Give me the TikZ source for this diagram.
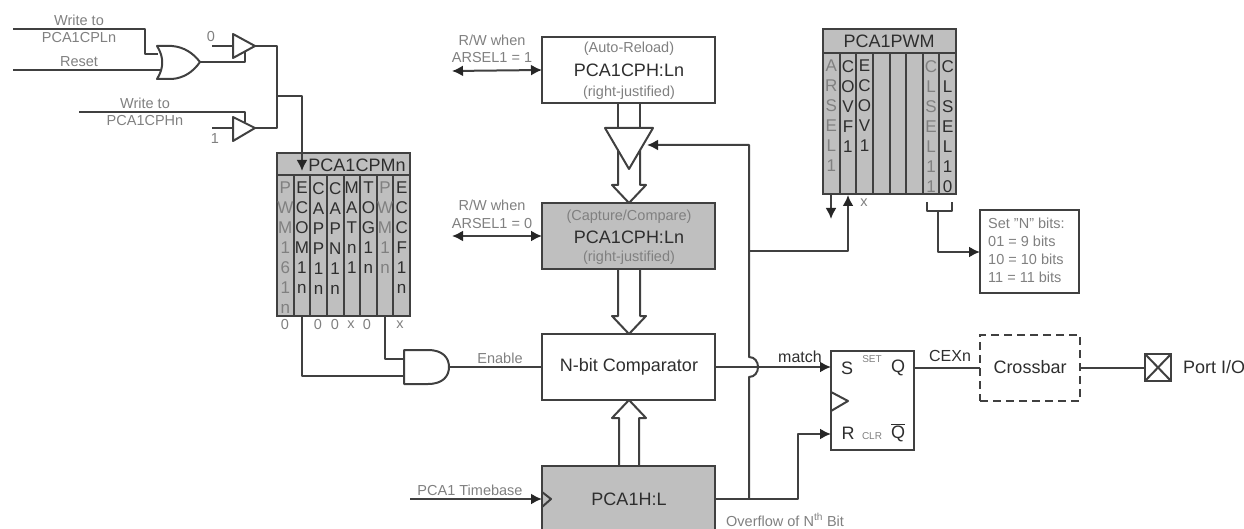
\documentclass[tikz,border=0pt]{standalone}
\usepackage{fontspec}
\setmainfont{Liberation Sans}
\usetikzlibrary{arrows.meta}
\definecolor{ln}{gray}{0.25}
\definecolor{txd}{gray}{0.18}
\definecolor{txg}{gray}{0.5}
\definecolor{fillg}{gray}{0.75}
\tikzset{
  wire/.style={draw=ln,line width=2pt,line join=round},
  arr/.style={wire,-{Latex[length=11pt,width=11pt,color=black!85]}},
  biarr/.style={wire,{Latex[length=11pt,width=11pt,color=black!85]}-{Latex[length=11pt,width=11pt,color=black!85]}},
  box/.style={draw=ln,line width=2.3pt,inner sep=0pt,outer sep=0pt,anchor=north west,align=center},
  gate/.style={draw=ln,line width=2pt,line join=round,fill=white},
  big/.style={font=\fontsize{18}{20}\selectfont,text=txd,inner sep=0pt},
  small/.style={font=\fontsize{14.5}{16}\selectfont,text=txg,inner sep=0pt},
  tiny/.style={font=\fontsize{10}{11}\selectfont,text=txg,inner sep=0pt},
  cold/.style={font=\fontsize{17}{20}\selectfont,text=txd,inner sep=0pt,anchor=north,align=center},
  colg/.style={font=\fontsize{17}{20}\selectfont,text=txg,inner sep=0pt,anchor=north,align=center},
}
\begin{document}
\begin{tikzpicture}[x=1pt,y=-1pt]
\useasboundingbox (0,0) rectangle (1244,529);

% ---- free end and pin coordinates
\coordinate (wl) at (13,29);
\coordinate (rs) at (13,70);
\coordinate (wh) at (79,112);
\coordinate (orA) at (158,54);
\coordinate (orB) at (161,70);
\coordinate (orO) at (200,62);
\coordinate (t1i) at (233,46);
\coordinate (t1o) at (255,46);
\coordinate (t1e) at (245,52);
\coordinate (t2i) at (233,128);
\coordinate (t2o) at (255,128);
\coordinate (t2e) at (245,122);
\coordinate (zero) at (212,46);
\coordinate (one) at (212,128);
\coordinate (bus) at (277,96);
\coordinate (andA) at (404,359);
\coordinate (andB) at (404,376);
\coordinate (andO) at (449,367);
\coordinate (tb) at (410,499);
\coordinate (ctrl) at (749,251);
\coordinate (ovf) at (749,499);
\coordinate (ctlin) at (647,145);
\coordinate (r1) at (452,71);
\coordinate (r2) at (452,236);
\coordinate (down) at (831,219);
\coordinate (brL) at (927,202);
\coordinate (brR) at (952,202);

% ---- boxes
\node[box,minimum width=173pt,minimum height=66pt] (ar) at (542,37) {};
\node[box,fill=fillg,minimum width=173pt,minimum height=66pt] (cc) at (542,203) {};
\node[box,minimum width=173pt,minimum height=66pt] (cmp) at (542,334) {};
\node[box,fill=fillg,minimum width=173pt,minimum height=70pt] (tmr) at (542,466) {};
\node[box,minimum width=83pt,minimum height=99pt] (sr) at (831,351) {};
\node[box,dash pattern=on 8pt off 5pt,line width=2.8pt,minimum width=100pt,minimum height=66pt] (xb) at (980,335) {};
\node[box,minimum width=26pt,minimum height=27pt] (pin) at (1145,354) {};
\node[box,line width=2pt,minimum width=99pt,minimum height=83pt] (nb) at (980,210) {};
\node[box,fill=fillg,minimum width=133pt,minimum height=163pt] (cpm) at (277,153) {};
\node[box,fill=fillg,minimum width=133pt,minimum height=165pt] (pwm) at (823,29) {};

% ---- register dividers
\draw[wire] (277,175) -- (410,175);
\foreach \d in {1,...,7} \draw[wire] (277+\d*16.625,175) -- ++(0,141);
\draw[wire] (823,53) -- (956,53);
\foreach \d in {1,...,7} \draw[wire] (823+\d*16.625,53) -- ++(0,141);

% ---- texts in the boxes
\node[big] (arT) at (629,70) {PCA1CPH:Ln};
\node[small] (arA) at (629,49) {(Auto-Reload)};
\node[small] (arB) at (629,93) {(right-justified)};
\node[big] (ccT) at (629,237) {PCA1CPH:Ln};
\node[small] (ccA) at (629,217) {(Capture/Compare)};
\node[small] (ccB) at (629,258) {(right-justified)};
\node[big] (cmpT) at (629,367) {N-bit Comparator};
\node[big] (tmrT) at (629,499) {PCA1H:L};
\node[big] (xbT) at (1030,367) {Crossbar};
\node[big,anchor=west] (pinT) at (1183,367) {Port I/O};
\node[big] (cpmH) at (357,165) {PCA1CPMn};
\node[big] (pwmH) at (889,41) {PCA1PWM};

\node[big] (sS) at (847,368) {S};
\node[big] (sQ) at (898,368) {Q};
\node[big] (sR) at (848,433) {R};
\node[big] (sN) at (898,433) {$\overline{\mbox{Q}}$};
\node[tiny] (sSET) at (872,359) {SET};
\node[tiny] (sCLR) at (872,436) {CLR};

% ---- register bit columns
\foreach \t/\s/\n [count=\i] in {
  {P\\W\\M\\1\\6\\1\\n}/colg/a,{E\\C\\O\\M\\1\\n}/cold/b,{C\\A\\P\\P\\1\\n}/cold/c,{C\\A\\P\\N\\1\\n}/cold/d,
  {M\\A\\T\\n\\1}/cold/e,{T\\O\\G\\1\\n}/cold/f,{P\\W\\M\\1\\n}/colg/g,{E\\C\\C\\F\\1\\n}/cold/h}
  \node[\s] (cpm\n) at (277+\i*16.625-8.3,182) {\t};
\foreach \t/\s/\n/\i in {
  {A\\R\\S\\E\\L\\1}/colg/a/1,{C\\O\\V\\F\\1}/cold/b/2,{E\\C\\O\\V\\1}/cold/c/3,
  {C\\L\\S\\E\\L\\1\\1}/colg/g/7,{C\\L\\S\\E\\L\\1\\0}/cold/h/8}
  \node[\s] (pwm\n) at (823+\i*16.625-8.3,60) {\t};

% ---- values under the registers
\foreach \t/\x/\n in {0/285/a,0/318/c,0/335/d,x/351/e,0/367/f,x/400/h}
  \node[small] (v\n) at (\x,325) {\t};
\node[small] (vx) at (864,203) {x};

% ---- labels
\node[small] (l1) at (79,20) {Write to};
\node[small] (l2) at (79,38) {PCA1CPLn};
\node[small] (l3) at (79,62) {Reset};
\node[small] (l4) at (145,103) {Write to};
\node[small] (l5) at (145,121) {PCA1CPHn};
\node[small] (l6) at (211,37) {0};
\node[small] (l7) at (215,139) {1};
\node[small] (l8) at (492,40) {R/W when};
\node[small] (l9) at (492,58) {ARSEL1 = 1};
\node[small] (l10) at (492,205) {R/W when};
\node[small] (l11) at (492,224) {ARSEL1 = 0};
\node[small] (l12) at (500,358) {Enable};
\node[small] (l13) at (470,490) {PCA1 Timebase};
\node[small,anchor=west] (l14) at (726,520) {Overflow of N\textsuperscript{th} Bit};
\node[big,font=\fontsize{16}{18}\selectfont] (l15) at (800,357) {match};
\node[big,font=\fontsize{16}{18}\selectfont] (l16) at (950,356) {CEXn};
\node[small,anchor=north west,align=left,font=\fontsize{14.5}{18}\selectfont] (l17) at (988,218) {Set "N" bits:\\01 = 9 bits\\10 = 10 bits\\11 = 11 bits};

% ---- left input logic
\draw[wire] (wl) -- (145,29) |- (orA);
\draw[wire] (rs) -- (orB);
\draw[wire] (wh) -| (t2e);
\draw[wire] (orO) -| (t1e);
\draw[wire] (zero) -- (t1i);
\draw[wire] (one) -- (t2i);
\draw[wire] (t1o) -| (bus);
\draw[wire] (bus) |- (t2o);
\draw[arr] (bus) -- (302,96) -- (302,171);
\draw[gate] (157,46) -- (172,46) .. controls (184,47) and (193,53) .. (orO)
  .. controls (193,72) and (184,78) .. (172,79) -- (157,79)
  .. controls (164,68) and (164,57) .. (157,46) -- cycle;
\draw[gate] (233,34) -- (t1o) -- (233,58) -- cycle;
\draw[gate] (233,117) -- (t2o) -- (233,141) -- cycle;

% ---- AND gate
\draw[wire] (302,316) |- (andB);
\draw[wire] (385,316) |- (andA);
\draw[wire] (andO) -- (cmp.west);
\draw[gate] (404,350) -- (428,350) .. controls (443,350) and (449,358) .. (andO)
  .. controls (449,376) and (443,384) .. (428,384) -- (404,384) -- cycle;

% ---- buses between the registers
\draw[wire,fill=white] (618,128) -- (618,185) -- (612,185) -- (629,203) -- (646,185) -- (640,185) -- (640,128);
\draw[wire] (618,103) -- (618,128);
\draw[wire] (640,103) -- (640,128);
\draw[wire] (618,269) -- (618,316) -- (612,316) -- (629,334) -- (646,316) -- (640,316) -- (640,269);
\draw[wire] (619,466) -- (619,418) -- (612,418) -- (629,400) -- (646,418) -- (639,418) -- (639,466);
\draw[gate] (605,128) -- (653,128) -- (629,169) -- cycle;

% ---- read/write arrows
\draw[biarr] (r1) -- (ar.west);
\draw[biarr] (r2) -- (cc.west);

% ---- control lines
\draw[arr] (ovf) -- (749,377) .. controls (761,377) and (761,357) .. (749,357) -- (749,145) -- (ctlin);
\draw[arr] (ctrl) -- (848,251) -- (848,195);
\draw[arr] (831,194) -- (down);
\draw[wire] (brL) -- (927,211) -- (952,211) -- (brR);
\draw[arr] (938,211) -- (938,252) -- (nb.west |- 0,252);
\draw[arr] (tmr.east |- 0,499) -- (798,499) -- (798,434) -- (sr.west |- 0,434);
\draw[arr] (cmp.east) -- (sr.west |- cmp.east);
\draw[wire] (sr.east |- 0,368) -- (xb.west |- 0,368);
\draw[wire] (xb.east |- 0,368) -- (pin.west |- 0,368);
\draw[wire] (pin.north west) -- (pin.south east) (pin.north east) -- (pin.south west);
\draw[arr] (tb) -- (tmr.west |- tb);
\draw[wire] (542,492) -- (551,499) -- (542,507);
\draw[wire] (831,392) -- (848,401) -- (831,411);
\end{tikzpicture}
\end{document}
